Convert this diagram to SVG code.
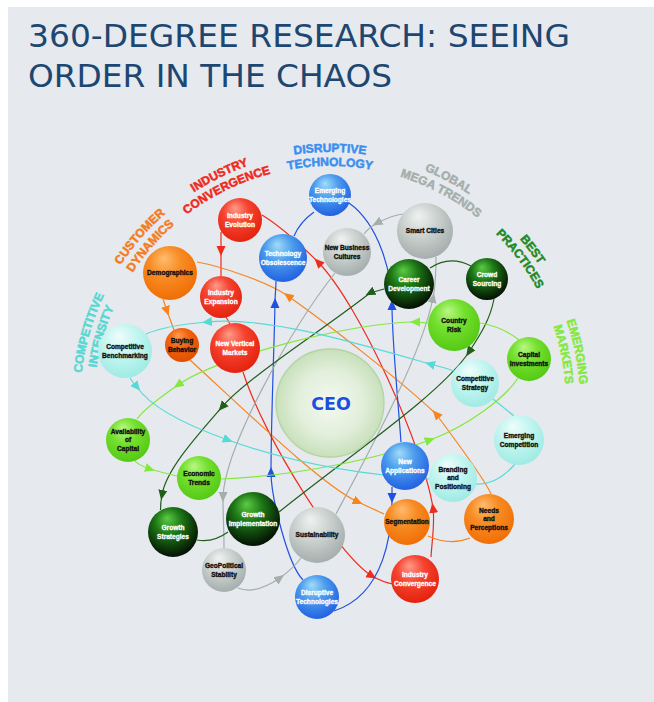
<svg xmlns="http://www.w3.org/2000/svg" width="654" height="702" viewBox="0 0 654 702">
<style>
.title{font-family:"DejaVu Sans",Verdana,sans-serif;font-size:32px;fill:#1d4770}
.cat{font-family:"Liberation Sans",Arial,sans-serif;font-weight:bold;font-size:12px;stroke-width:0.5}
.lbl{font-family:"Liberation Sans",Arial,sans-serif;font-weight:bold;font-size:6.6px;text-anchor:middle}
.dk{fill:#111;stroke:#111;stroke-width:0.35}
.wt{fill:#fff;stroke:#fff;stroke-width:0.3}
.cn{fill:none;stroke-width:1.2}
.red{stroke:#ef2b1d}.org{stroke:#f7841e}.blu{stroke:#2050e0}.gry{stroke:#a5aeab}
.dgr{stroke:#215e1c}.lgr{stroke:#84e83e}.cyn{stroke:#55dbd5}
</style>
<defs>
<radialGradient id="g-red" cx="45%" cy="38%" r="65%" fx="38%" fy="22%"><stop offset="0" stop-color="#ff9a8a"/><stop offset="0.45" stop-color="#f5432f"/><stop offset="1" stop-color="#e2200c"/></radialGradient>
<radialGradient id="g-org" cx="45%" cy="38%" r="65%" fx="38%" fy="22%"><stop offset="0" stop-color="#ffbc70"/><stop offset="0.45" stop-color="#f88c24"/><stop offset="1" stop-color="#f06c04"/></radialGradient>
<radialGradient id="g-org2" cx="45%" cy="38%" r="65%" fx="38%" fy="22%"><stop offset="0" stop-color="#ff9a50"/><stop offset="0.45" stop-color="#f2640f"/><stop offset="1" stop-color="#e04c00"/></radialGradient>
<radialGradient id="g-blu" cx="45%" cy="38%" r="65%" fx="38%" fy="22%"><stop offset="0" stop-color="#a0dcf8"/><stop offset="0.45" stop-color="#4c9cee"/><stop offset="1" stop-color="#1f5ee0"/></radialGradient>
<radialGradient id="g-gry" cx="45%" cy="38%" r="65%" fx="38%" fy="22%"><stop offset="0" stop-color="#f0f2f1"/><stop offset="0.45" stop-color="#cdd3d1"/><stop offset="1" stop-color="#a2acaa"/></radialGradient>
<radialGradient id="g-dgr" cx="45%" cy="38%" r="65%" fx="38%" fy="22%"><stop offset="0" stop-color="#5ccb44"/><stop offset="0.4" stop-color="#1e7a17"/><stop offset="1" stop-color="#010a01"/></radialGradient>
<radialGradient id="g-lgr" cx="45%" cy="38%" r="65%" fx="38%" fy="22%"><stop offset="0" stop-color="#b8f784"/><stop offset="0.45" stop-color="#74e02f"/><stop offset="1" stop-color="#52c812"/></radialGradient>
<radialGradient id="g-cyn" cx="45%" cy="38%" r="65%" fx="38%" fy="22%"><stop offset="0" stop-color="#eefdfb"/><stop offset="0.5" stop-color="#c2f5f0"/><stop offset="1" stop-color="#9ceae3"/></radialGradient>
<radialGradient id="g-ceo" cx="50%" cy="50%" r="50%"><stop offset="0" stop-color="#f4f9f1"/><stop offset="0.6" stop-color="#e2efdb"/><stop offset="1" stop-color="#c8e0bb"/></radialGradient>
<marker id="m-red" viewBox="-5 -5 10 10" markerWidth="10" markerHeight="10" markerUnits="userSpaceOnUse" orient="auto"><path d="M5,0 L-5,-4.5 L-5,4.5 Z" fill="#ef2b1d"/></marker>
<marker id="m-org" viewBox="-5 -5 10 10" markerWidth="10" markerHeight="10" markerUnits="userSpaceOnUse" orient="auto"><path d="M5,0 L-5,-4.5 L-5,4.5 Z" fill="#f7841e"/></marker>
<marker id="m-blu" viewBox="-5 -5 10 10" markerWidth="10" markerHeight="10" markerUnits="userSpaceOnUse" orient="auto"><path d="M5,0 L-5,-4.5 L-5,4.5 Z" fill="#2050e0"/></marker>
<marker id="m-gry" viewBox="-5 -5 10 10" markerWidth="10" markerHeight="10" markerUnits="userSpaceOnUse" orient="auto"><path d="M5,0 L-5,-4.5 L-5,4.5 Z" fill="#a5aeab"/></marker>
<marker id="m-dgr" viewBox="-5 -5 10 10" markerWidth="10" markerHeight="10" markerUnits="userSpaceOnUse" orient="auto"><path d="M5,0 L-5,-4.5 L-5,4.5 Z" fill="#215e1c"/></marker>
<marker id="m-lgr" viewBox="-5 -5 10 10" markerWidth="10" markerHeight="10" markerUnits="userSpaceOnUse" orient="auto"><path d="M5,0 L-5,-4.5 L-5,4.5 Z" fill="#84e83e"/></marker>
<marker id="m-cyn" viewBox="-5 -5 10 10" markerWidth="10" markerHeight="10" markerUnits="userSpaceOnUse" orient="auto"><path d="M5,0 L-5,-4.5 L-5,4.5 Z" fill="#55dbd5"/></marker>
<path id="a-ci1" d="M111.35,523.2 A250,250 0 0 1 208.8,183.35"/>
<path id="a-ci2" d="M123.6,516.4 A236,236 0 0 1 215.6,195.6"/>
<path id="a-cd1" d="M80.6,419.45 A250,250 0 0 1 312.55,152.6"/>
<path id="a-cd2" d="M94.6,418.5 A236,236 0 0 1 313.5,166.6"/>
<path id="a-ic1" d="M93.6,320.6 A250,250 0 0 1 411.4,165.6"/>
<path id="a-ic2" d="M106.9,325.2 A236,236 0 0 1 406.8,178.9"/>
<path id="a-dt1" d="M153.2,225.2 A250,250 0 0 1 506.8,225.2"/>
<path id="a-dt2" d="M163.1,235.1 A236,236 0 0 1 496.9,235.1"/>
<path id="a-gm1" d="M256.9,162.9 A250,250 0 0 1 569.1,328.9"/>
<path id="a-gm2" d="M261,176.3 A236,236 0 0 1 555.7,333"/>
<path id="a-bp1" d="M364.8,154.4 A250,250 0 0 1 577.6,436.8"/>
<path id="a-bp2" d="M362.85,168.3 A236,236 0 0 1 563.7,434.85"/>
<path id="a-em1" d="M468,193.5 A250,250 0 0 1 538.5,540"/>
<path id="a-em2" d="M460.2,205.2 A236,236 0 0 1 526.8,532.2"/>
</defs>

<rect x="8" y="7" width="646" height="695" fill="#e6e9ee"/>
<text class="title" x="28" y="47" textLength="542" lengthAdjust="spacingAndGlyphs">360-DEGREE RESEARCH: SEEING</text>
<text class="title" x="28" y="87" textLength="364" lengthAdjust="spacingAndGlyphs">ORDER IN THE CHAOS</text>

<g id="category-labels" class="cat">
<text fill="#55d8d2" stroke="#55d8d2"><textPath href="#a-ci1" startOffset="50%" text-anchor="middle">COMPETITIVE</textPath></text>
<text fill="#55d8d2" stroke="#55d8d2"><textPath href="#a-ci2" startOffset="50%" text-anchor="middle">INTENSITY</textPath></text>
<text fill="#f47c20" stroke="#f47c20"><textPath href="#a-cd1" startOffset="50%" text-anchor="middle">CUSTOMER</textPath></text>
<text fill="#f47c20" stroke="#f47c20"><textPath href="#a-cd2" startOffset="50%" text-anchor="middle">DYNAMICS</textPath></text>
<text fill="#ee2a1e" stroke="#ee2a1e"><textPath href="#a-ic1" startOffset="50%" text-anchor="middle">INDUSTRY</textPath></text>
<text fill="#ee2a1e" stroke="#ee2a1e"><textPath href="#a-ic2" startOffset="50%" text-anchor="middle">CONVERGENCE</textPath></text>
<text fill="#3a8ef0" stroke="#3a8ef0"><textPath href="#a-dt1" startOffset="50%" text-anchor="middle">DISRUPTIVE</textPath></text>
<text fill="#3a8ef0" stroke="#3a8ef0"><textPath href="#a-dt2" startOffset="50%" text-anchor="middle">TECHNOLOGY</textPath></text>
<text fill="#a5aeab" stroke="#a5aeab"><textPath href="#a-gm1" startOffset="50%" text-anchor="middle">GLOBAL</textPath></text>
<text fill="#a5aeab" stroke="#a5aeab"><textPath href="#a-gm2" startOffset="50%" text-anchor="middle">MEGA TRENDS</textPath></text>
<text fill="#1f8a1f" stroke="#1f8a1f"><textPath href="#a-bp1" startOffset="50%" text-anchor="middle">BEST</textPath></text>
<text fill="#1f8a1f" stroke="#1f8a1f"><textPath href="#a-bp2" startOffset="50%" text-anchor="middle">PRACTICES</textPath></text>
<text fill="#84e83e" stroke="#84e83e"><textPath href="#a-em1" startOffset="50%" text-anchor="middle">EMERGING</textPath></text>
<text fill="#84e83e" stroke="#84e83e"><textPath href="#a-em2" startOffset="50%" text-anchor="middle">MARKETS</textPath></text>
</g>

<g id="connectors">
<!-- red -->
<path class="cn red" marker-mid="url(#m-red)" d="M221,232 L221,251 L221,276"/>
<path class="cn red" d="M226,317 L230,324"/>
<path class="cn red" marker-mid="url(#m-red)" d="M243,372 C265,440 338,555 372,576 C379,580 387,583 393,584"/>
<path class="cn red" marker-mid="url(#m-red)" d="M431,557 C432,540 435,523 433,508 C424,449 360,305 318,262 C304,248 280,226 262,215"/>
<!-- orange -->
<path class="cn org" marker-mid="url(#m-org)" d="M163,299 L167,311 L174,330"/>
<path class="cn org" marker-mid="url(#m-org)" d="M190,360 C250,415 322,485 358,502 C365,505 377,511 384,514"/>
<path class="cn org" d="M428,536 Q450,546 470,538"/>
<path class="cn org" marker-mid="url(#m-org)" d="M491,494 C484,478 448,430 436,414 C400,380 329,325 288,296 C268,282 220,266 197,262"/>
<!-- blue -->
<path class="cn blu" d="M314,212 Q300,222 294,236"/>
<path class="cn blu" marker-mid="url(#m-blu)" d="M303,580 C288,565 271,497 271,472 C271,422 274,353 275,303 C275,295 276,288 276,281"/>
<path class="cn blu" marker-mid="url(#m-blu)" d="M392,487 C392,491 392,494 392,498 C392,530 386,594 334,611"/>
<path class="cn blu" marker-mid="url(#m-blu)" d="M401,442 C398,400 392,340 392,305 C392,275 380,225 349,203"/>
<!-- gray -->
<path class="cn gry" marker-mid="url(#m-gry)" d="M403,214 C394,215 385,219 377,223 C372,226 367,230 364,234"/>
<path class="cn gry" marker-mid="url(#m-gry)" d="M335,273 C290,330 225,447 223,497 C223,515 224,530 224,548"/>
<path class="cn gry" marker-mid="url(#m-gry)" d="M238,588 C252,594 268,586 280,578 C288,572 296,565 301,558"/>
<path class="cn gry" marker-mid="url(#m-gry)" d="M336,514 C370,450 421,357 433,298 C436,283 436,268 436,257"/>
<!-- dark green -->
<path class="cn dgr" d="M430,268 Q450,255 471,266"/>
<path class="cn dgr" marker-mid="url(#m-dgr)" d="M384,289 L370,293 C323,330 248,377 222,407 C196,437 166,470 162,495 C161,500 160.5,505 160.5,510"/>
<path class="cn dgr" d="M197,540 Q213,543 228,532"/>
<path class="cn dgr" marker-mid="url(#m-dgr)" d="M494,299 C490,320 480,335 469,352 C441,394 350,455 279,512"/>
<!-- light green -->
<path class="cn lgr" d="M480,323 Q503,327 519,340"/>
<path class="cn lgr" marker-mid="url(#m-lgr)" d="M428,323 C424,323 419,322 415,322 C355,322 219,356 178,385 C162,396 145,408 137,419"/>
<path class="cn lgr" marker-mid="url(#m-lgr)" d="M134,460 C138,465 144,467 150,469 C160,472 168,474 177,476"/>
<path class="cn lgr" marker-mid="url(#m-lgr)" d="M221,479 C300,476 383,457 430,440 C468,426 505,398 518,378"/>
<!-- cyan -->
<path class="cn cyn" marker-mid="url(#m-cyn)" d="M454,371 C446,368 438,366 430,364 C353,342 266,316 207,322 C182,324 160,328 146,334"/>
<path class="cn cyn" marker-mid="url(#m-cyn)" d="M130,378 C132,381 134,384 137,387 C151,408 186,425 228,440 C303,467 380,476 429,479"/>
<path class="cn cyn" d="M476,484 Q497,485 515,464"/>
<path class="cn cyn" d="M514,416 L493,399"/>
</g>

<g id="n-ceo">
<circle cx="330" cy="403" r="54" fill="url(#g-ceo)" stroke="#b3d4a3" stroke-width="1.3"/>
<text x="331" y="410" font-family="DejaVu Sans, sans-serif" font-weight="bold" font-size="17.5" fill="#1b4fe0" text-anchor="middle">CEO</text>
</g>

<g id="n-emerging-technologies"><circle cx="330" cy="195" r="21" fill="url(#g-blu)"/><text class="lbl wt" x="330" y="193.2">Emerging</text><text class="lbl wt" x="330" y="201.7">Technologies</text></g>
<g id="n-technology-obsolescence"><circle cx="283" cy="258" r="24" fill="url(#g-blu)"/><text class="lbl wt" x="283" y="256.2">Technology</text><text class="lbl wt" x="283" y="264.7">Obsolescence</text></g>
<g id="n-new-business-cultures"><circle cx="347" cy="252" r="24" fill="url(#g-gry)"/><text class="lbl dk" x="347" y="250.2">New Business</text><text class="lbl dk" x="347" y="258.7">Cultures</text></g>
<g id="n-smart-cities"><circle cx="425" cy="231" r="28" fill="url(#g-gry)"/><text class="lbl dk" x="425" y="233.4">Smart Cities</text></g>
<g id="n-career-development"><circle cx="409" cy="284" r="25" fill="url(#g-dgr)"/><text class="lbl wt" x="409" y="282.2">Career</text><text class="lbl wt" x="409" y="290.7">Development</text></g>
<g id="n-crowd-sourcing"><circle cx="487" cy="279" r="21" fill="url(#g-dgr)"/><text class="lbl wt" x="487" y="277.2">Crowd</text><text class="lbl wt" x="487" y="285.7">Sourcing</text></g>
<g id="n-country-risk"><circle cx="454" cy="325" r="26" fill="url(#g-lgr)"/><text class="lbl dk" x="454" y="323.2">Country</text><text class="lbl dk" x="454" y="331.7">Risk</text></g>
<g id="n-capital-investments"><circle cx="529" cy="359" r="22" fill="url(#g-lgr)"/><text class="lbl dk" x="529" y="357.2">Capital</text><text class="lbl dk" x="529" y="365.7">Investments</text></g>
<g id="n-competitive-strategy"><circle cx="475" cy="383" r="24" fill="url(#g-cyn)"/><text class="lbl dk" x="475" y="381.2">Competitive</text><text class="lbl dk" x="475" y="389.7">Strategy</text></g>
<g id="n-emerging-competition"><circle cx="519" cy="440" r="25" fill="url(#g-cyn)"/><text class="lbl dk" x="519" y="438.2">Emerging</text><text class="lbl dk" x="519" y="446.7">Competition</text></g>
<g id="n-branding-positioning"><circle cx="453" cy="478" r="24" fill="url(#g-cyn)"/><text class="lbl dk" x="453" y="472.1">Branding</text><text class="lbl dk" x="453" y="480.4">and</text><text class="lbl dk" x="453" y="488.7">Positioning</text></g>
<g id="n-needs-perceptions"><circle cx="489" cy="519" r="25" fill="url(#g-org)"/><text class="lbl dk" x="489" y="513.1">Needs</text><text class="lbl dk" x="489" y="521.4">and</text><text class="lbl dk" x="489" y="529.7">Perceptions</text></g>
<g id="n-new-applications"><circle cx="405" cy="466" r="24" fill="url(#g-blu)"/><text class="lbl wt" x="405" y="464.2">New</text><text class="lbl wt" x="405" y="472.7">Applications</text></g>
<g id="n-segmentation"><circle cx="407" cy="522" r="23" fill="url(#g-org)"/><text class="lbl dk" x="407" y="524.4">Segmentation</text></g>
<g id="n-industry-convergence"><circle cx="415" cy="579" r="24" fill="url(#g-red)"/><text class="lbl wt" x="415" y="577.2">Industry</text><text class="lbl wt" x="415" y="585.7">Convergence</text></g>
<g id="n-disruptive-technologies"><circle cx="317" cy="597" r="22" fill="url(#g-blu)"/><text class="lbl wt" x="317" y="595.2">Disruptive</text><text class="lbl wt" x="317" y="603.7">Technologies</text></g>
<g id="n-sustainability"><circle cx="317" cy="535" r="28" fill="url(#g-gry)"/><text class="lbl dk" x="317" y="537.4">Sustainability</text></g>
<g id="n-geopolitical-stability"><circle cx="224" cy="570" r="22" fill="url(#g-gry)"/><text class="lbl dk" x="224" y="568.2">GeoPolitical</text><text class="lbl dk" x="224" y="576.7">Stability</text></g>
<g id="n-growth-implementation"><circle cx="253" cy="519" r="27" fill="url(#g-dgr)"/><text class="lbl wt" x="253" y="517.2">Growth</text><text class="lbl wt" x="253" y="525.7">Implementation</text></g>
<g id="n-growth-strategies"><circle cx="173" cy="532" r="25" fill="url(#g-dgr)"/><text class="lbl wt" x="173" y="530.2">Growth</text><text class="lbl wt" x="173" y="538.7">Strategies</text></g>
<g id="n-economic-trends"><circle cx="199" cy="478" r="22" fill="url(#g-lgr)"/><text class="lbl dk" x="199" y="476.2">Economic</text><text class="lbl dk" x="199" y="484.7">Trends</text></g>
<g id="n-availability-of-capital"><circle cx="128" cy="440" r="22" fill="url(#g-lgr)"/><text class="lbl dk" x="128" y="434.1">Availability</text><text class="lbl dk" x="128" y="442.4">of</text><text class="lbl dk" x="128" y="450.7">Capital</text></g>
<g id="n-competitive-benchmarking"><circle cx="125" cy="351" r="27" fill="url(#g-cyn)"/><text class="lbl dk" x="125" y="349.2">Competitive</text><text class="lbl dk" x="125" y="357.7">Benchmarking</text></g>
<g id="n-buying-behavior"><circle cx="182" cy="345" r="17" fill="url(#g-org2)"/><text class="lbl dk" x="182" y="343.2">Buying</text><text class="lbl dk" x="182" y="351.7">Behavior</text></g>
<g id="n-demographics"><circle cx="170" cy="273" r="27" fill="url(#g-org)"/><text class="lbl dk" x="170" y="275.4">Demographics</text></g>
<g id="n-industry-evolution"><circle cx="240" cy="220" r="22" fill="url(#g-red)"/><text class="lbl wt" x="240" y="218.2">Industry</text><text class="lbl wt" x="240" y="226.7">Evolution</text></g>
<g id="n-industry-expansion"><circle cx="221" cy="297" r="21" fill="url(#g-red)"/><text class="lbl wt" x="221" y="295.2">Industry</text><text class="lbl wt" x="221" y="303.7">Expansion</text></g>
<g id="n-new-vertical-markets"><circle cx="235" cy="348" r="25" fill="url(#g-red)"/><text class="lbl wt" x="235" y="346.2">New Vertical</text><text class="lbl wt" x="235" y="354.7">Markets</text></g>
</svg>
